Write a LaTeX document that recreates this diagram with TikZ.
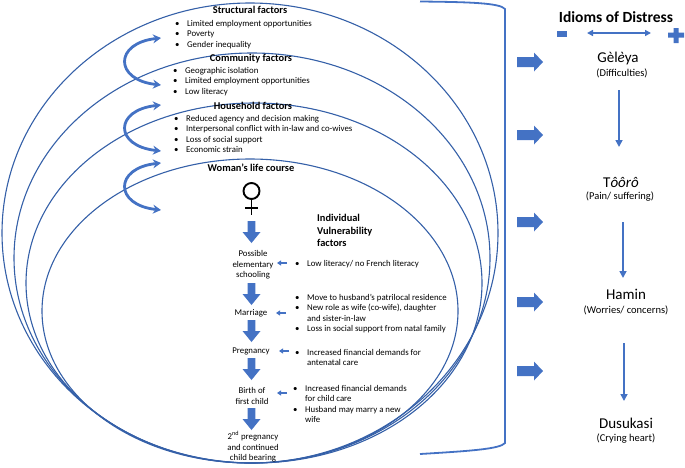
\documentclass[tikz,border=0pt]{standalone}
\usepackage{fontspec}
\setmainfont{Carlito}
\usetikzlibrary{arrows.meta}
\definecolor{abl}{HTML}{4472C4}
\definecolor{ebl}{HTML}{3560A8}
\newcommand\blist[1]{\begin{tabular}[t]{@{}l@{\hspace{7.8pt}}l@{}}#1\end{tabular}}
\begin{document}
\begin{tikzpicture}[x=1pt,y=-1pt,
  ell/.style={draw=ebl,line width=1.1pt},
  body/.style={inner sep=0pt,font=\fontsize{8.8}{10.5}\selectfont},
  head/.style={inner sep=0pt,font=\fontsize{10.4}{12.5}\selectfont\bfseries},
  stage/.style={inner sep=0pt,align=center,font=\fontsize{8.8}{10.5}\selectfont},
  idiom/.style={inner sep=0pt,font=\fontsize{15}{17}\selectfont},
  isub/.style={inner sep=0pt,font=\fontsize{10.5}{12}\selectfont},
  curvarr/.style={draw=abl,line width=2.8pt,{Stealth[length=8pt,width=9pt]}-{Stealth[length=8pt,width=9pt]}},
  smallarr/.style={draw=abl,line width=1.1pt,-{Triangle[length=4pt,width=5pt]}},
  downarr/.style={draw=abl,line width=1.6pt,-{Triangle[length=7pt,width=7pt]}},
  rblock/.pic={\fill[abl] (-13,-5) -- (4,-5) -- (4,-9.5) -- (13,0) -- (4,9.5) -- (4,5) -- (-13,5) -- cycle;},
  dblock/.pic={\fill[abl] (-3.8,-11) -- (3.8,-11) -- (3.8,0) -- (9,0) -- (0,11) -- (-9,0) -- (-3.8,0) -- cycle;}
]
\useasboundingbox (0,0) rectangle (685,467);
% nested ellipses
\draw[ell] (250,233) ellipse [x radius=248, y radius=230];
\draw[ell] (252,258) ellipse [x radius=238, y radius=205];
\draw[ell] (254,283) ellipse [x radius=228, y radius=180];
\draw[ell] (250,311) ellipse [x radius=208, y radius=152];
% bracket
\draw[abl,line width=1.8pt] (420,1.5) .. controls (470,2) and (500,3) .. (505,9) -- (505,443) .. controls (500,449) and (470,451) .. (420,454);
% headings
\node[head] (struct) at (250,10) {Structural factors};
\node[head] (comm) at (251,59) {Community factors};
\node[head] (house) at (253,106) {Household factors};
\node[head] (life) at (251,168) {Woman’s life course};
% bullet lists
\node[body,anchor=base west] (sl) at (174.8,26) {\blist{\textbullet & Limited employment opportunities\\ \textbullet & Poverty\\ \textbullet & Gender inequality\\}};
\node[body,anchor=base west] (cl) at (172.8,73) {\blist{\textbullet & Geographic isolation\\ \textbullet & Limited employment opportunities\\ \textbullet & Low literacy\\}};
\node[body,anchor=base west] (hl) at (173.8,121) {\blist{\textbullet & Reduced agency and decision making\\ \textbullet & Interpersonal conflict with in-law and co-wives\\ \textbullet & Loss of social support\\ \textbullet & Economic strain\\}};
% curved double arrows
\coordinate (c1a) at (161,38); \coordinate (c1b) at (161,85);
\coordinate (c2a) at (161,105); \coordinate (c2b) at (161,151);
\coordinate (c3a) at (161,163); \coordinate (c3b) at (161,210);
\draw[curvarr] (c1a) .. controls (114,43) and (114,80) .. (c1b);
\draw[curvarr] (c2a) .. controls (114,110) and (114,146) .. (c2b);
\draw[curvarr] (c3a) .. controls (114,168) and (114,205) .. (c3b);
% venus symbol
\draw[black,line width=1.9pt] (251.5,191) circle [radius=8];
\draw[black,line width=1.9pt] (251.5,199) -- (251.5,215) (245,208) -- (258,208);
% life course stages
\node[stage] (s1) at (253,265) {Possible\\elementary\\schooling};
\node[stage] (s2) at (251,313) {Marriage};
\node[stage] (s3) at (251,351) {Pregnancy};
\node[stage] (s4) at (252,396) {Birth of\\first child};
\node[stage] (s5) at (253,447) {2\textsuperscript{nd} pregnancy\\and continued\\child bearing};
\pic at (251.5,232) {dblock};
\pic at (251.5,294) {dblock};
\pic at (251.5,331) {dblock};
\pic at (251.5,369) {dblock};
\pic at (251.5,419) {dblock};
% individual vulnerability
\node[head,align=left,anchor=north west,font=\fontsize{10.4}{12.5}\selectfont\bfseries] (ind) at (317,214) {Individual\\Vulnerability\\factors};
\node[body,anchor=base west] (v1) at (294.8,266) {\blist{\textbullet & Low literacy/ no French literacy\\}};
\node[body,anchor=base west] (v2) at (294.8,300) {\blist{\textbullet & Move to husband’s patrilocal residence\\ \textbullet & New role as wife (co-wife), daughter\\ & and sister-in-law\\ \textbullet & Loss in social support from natal family\\}};
\node[body,anchor=base west] (v3) at (294.8,355) {\blist{\textbullet & Increased financial demands for\\ & antenatal care\\}};
\node[body,anchor=base west] (v4) at (292.8,391) {\blist{\textbullet & Increased financial demands\\ & for child care\\ \textbullet & Husband may marry a new\\ & wife\\}};
\coordinate (a1) at (287,263); \coordinate (b1) at (277,263);
\coordinate (a2) at (286,313); \coordinate (b2) at (276,313);
\coordinate (a3) at (289,351); \coordinate (b3) at (279,351);
\coordinate (a4) at (287,393); \coordinate (b4) at (277,393);
\draw[smallarr] (a1) -- (b1);
\draw[smallarr] (a2) -- (b2);
\draw[smallarr] (a3) -- (b3);
\draw[smallarr] (a4) -- (b4);
% right block arrows
\pic at (530,62) {rblock};
\pic at (530,135) {rblock};
\pic at (530,222) {rblock};
\pic at (530,302) {rblock};
\pic at (530,371) {rblock};
% idioms
\node[inner sep=0pt,font=\fontsize{15.5}{18}\selectfont\bfseries] (idt) at (616,17) {Idioms of Distress};
\fill[abl] (557,31) rectangle (567,37);
\fill[abl] (668,32.5) rectangle (684,37.5) (673.5,28) rectangle (678.5,43);
\coordinate (dl) at (587,33); \coordinate (dr) at (651,33);
\draw[abl,line width=1.5pt,{Triangle[length=6pt,width=6pt]}-{Triangle[length=6pt,width=6pt]}] (dl) -- (dr);
\node[idiom] (gel) at (618,58) {Gèl\textit{è}ya};
\node[isub] (gels) at (622,73) {(Difficulties)};
\node[idiom] (tor) at (621,182) {T\textit{ôôrô}};
\node[isub] (tors) at (620,197) {(Pain/ suffering)};
\node[idiom] (ham) at (626,294) {Hamin};
\node[isub] (hams) at (626,310) {(Worries/ concerns)};
\node[idiom] (dus) at (626,423) {Dusukasi};
\node[isub] (duss) at (626,439) {(Crying heart)};
\coordinate (d1a) at (619,90); \coordinate (d1b) at (619,147);
\coordinate (d2a) at (623,222); \coordinate (d2b) at (623,278);
\coordinate (d3a) at (624,343); \coordinate (d3b) at (624,401);
\draw[downarr] (d1a) -- (d1b);
\draw[downarr] (d2a) -- (d2b);
\draw[downarr] (d3a) -- (d3b);
\end{tikzpicture}
\end{document}
